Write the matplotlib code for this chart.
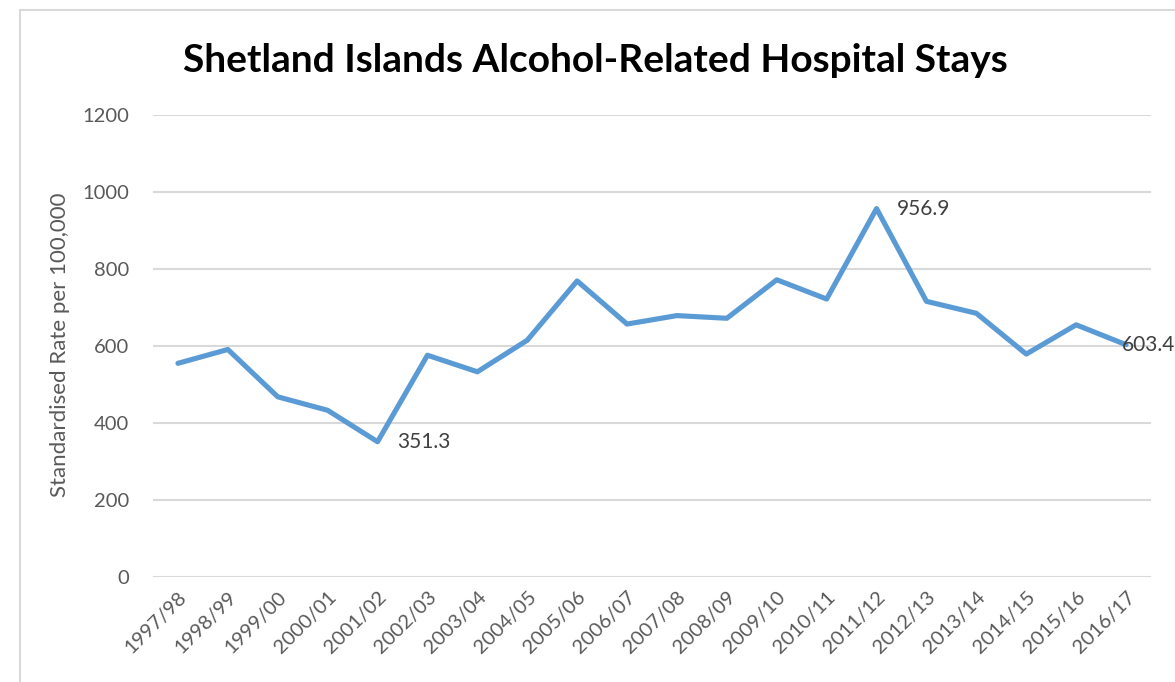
import matplotlib
matplotlib.use('Agg')
import matplotlib.pyplot as plt
from matplotlib.patches import Rectangle

# Data
years = ['1997/98', '1998/99', '1999/00', '2000/01', '2001/02', '2002/03', '2003/04',
         '2004/05', '2005/06', '2006/07', '2007/08', '2008/09', '2009/10', '2010/11',
         '2011/12', '2012/13', '2013/14', '2014/15', '2015/16', '2016/17']
rates = [555, 591, 468, 433, 351.3, 576, 533, 615, 769, 657, 679, 672, 772, 722,
         956.9, 716, 685, 579, 655, 603.4]
labelled = {4: '351.3', 14: '956.9', 19: '603.4'}

plt.rcParams['font.family'] = ['Lato', 'DejaVu Sans']

fig = plt.figure(figsize=(11.75, 6.82), dpi=100)
ax = fig.add_axes([153 / 1175, 1 - 577 / 682, 998 / 1175, 462 / 682])

# chart border
fig.patches.append(Rectangle((20 / 1175, -0.05), 1.1, 1 - 10 / 682 + 0.05,
                             transform=fig.transFigure, fill=False,
                             edgecolor='#d9d9d9', linewidth=1.5))

x = list(range(len(years)))
ax.plot(x, rates, color='#5b9bd5', linewidth=3.7, solid_joinstyle='round',
        solid_capstyle='round', zorder=3)

for i, txt in labelled.items():
    dx = 20 if i != 19 else -4
    ax.annotate(txt, (x[i], rates[i]), xytext=(dx, 0), textcoords='offset pixels',
                ha='left', va='center', fontsize=15, color='#404040',
                annotation_clip=False)

ax.set_xlim(-0.5, len(years) - 0.5)
ax.set_ylim(0, 1200)
ax.set_yticks(range(0, 1201, 200))
ax.set_xticks(x)
ax.set_xticklabels(years, rotation=45, ha='right', rotation_mode='anchor')
ax.tick_params(axis='both', length=0, labelsize=14.5, labelcolor='#595959')
ax.tick_params(axis='y', pad=17)
ax.tick_params(axis='x', pad=8)
ax.grid(axis='y', color='#d9d9d9', linewidth=1.5)
ax.set_axisbelow(True)
for s in ax.spines.values():
    s.set_visible(False)

fig.text(60 / 1175, 1 - 345 / 682, 'Standardised Rate per 100,000', rotation=90,
         ha='center', va='center', fontsize=16, color='#595959')
fig.text(595 / 1175, 1 - 60 / 682, 'Shetland Islands Alcohol-Related Hospital Stays',
         ha='center', va='center', fontsize=28, fontweight='bold', color='black')

fig.savefig('out.png', dpi=100)
